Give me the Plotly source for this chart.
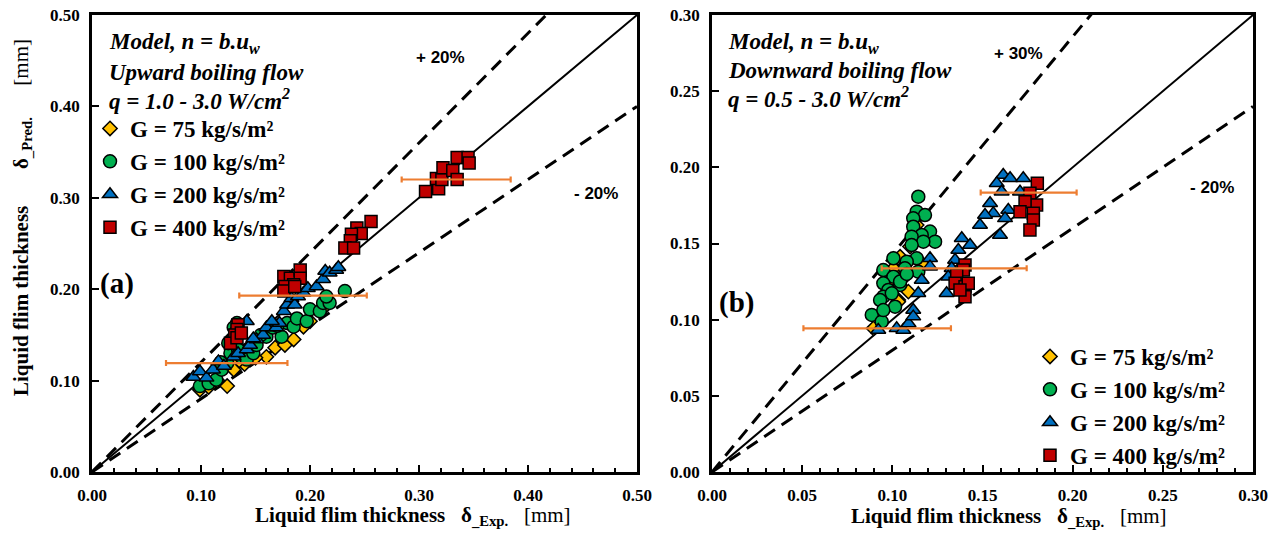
import plotly.graph_objects as go

W, H = 1280, 533
OFF = 0  # body margin removed by post_script below

# ---------------- DATA : panel (a) upward flow ----------------
A_G75_X = [0.099, 0.107, 0.124, 0.115, 0.130, 0.140, 0.160, 0.168, 0.177, 0.185, 0.194, 0.200, 0.212, 0.150, 0.135]
A_G75_Y = [0.090, 0.093, 0.094, 0.100, 0.112, 0.118, 0.126, 0.136, 0.139, 0.145, 0.159, 0.165, 0.179, 0.125, 0.122]

A_G100_X = [0.099, 0.107, 0.114, 0.119, 0.124, 0.127, 0.125, 0.134, 0.137, 0.142, 0.148, 0.151, 0.160, 0.166, 0.174,
            0.179, 0.185, 0.188, 0.197, 0.200, 0.209, 0.212, 0.218, 0.215, 0.232, 0.133, 0.130, 0.155, 0.170, 0.118]
A_G100_Y = [0.094, 0.097, 0.101, 0.112, 0.119, 0.130, 0.141, 0.134, 0.126, 0.123, 0.130, 0.139, 0.148, 0.158, 0.148,
            0.163, 0.159, 0.168, 0.165, 0.178, 0.176, 0.185, 0.185, 0.192, 0.198, 0.163, 0.158, 0.150, 0.160, 0.120]

A_G200_X = [0.093, 0.099, 0.105, 0.111, 0.116, 0.121, 0.130, 0.134, 0.142, 0.145, 0.151, 0.157, 0.160, 0.169, 0.172, 0.176,
            0.179, 0.183, 0.186, 0.189, 0.194, 0.198, 0.206, 0.212, 0.214, 0.218, 0.224, 0.226, 0.142, 0.133, 0.148, 0.165]
A_G200_Y = [0.104, 0.110, 0.103, 0.112, 0.121, 0.116, 0.126, 0.130, 0.134, 0.139, 0.145, 0.150, 0.158, 0.158, 0.163, 0.176,
            0.183, 0.190, 0.183, 0.192, 0.196, 0.201, 0.203, 0.211, 0.220, 0.218, 0.221, 0.224, 0.165, 0.159, 0.146, 0.165]

A_G400_X = [0.306, 0.318, 0.316, 0.321, 0.322, 0.331, 0.335, 0.335, 0.345, 0.346,
            0.256, 0.243, 0.247, 0.238, 0.237, 0.232, 0.240,
            0.176, 0.182, 0.191, 0.191, 0.185, 0.177, 0.176, 0.186,
            0.134, 0.133, 0.131, 0.127, 0.133, 0.137]
A_G400_Y = [0.307, 0.310, 0.321, 0.320, 0.333, 0.330, 0.320, 0.344, 0.344, 0.338,
            0.274, 0.267, 0.261, 0.260, 0.253, 0.245, 0.245,
            0.214, 0.212, 0.221, 0.212, 0.205, 0.203, 0.198, 0.203,
            0.161, 0.156, 0.150, 0.141, 0.147, 0.152]

A_ERR_X = [0.1236, 0.1936, 0.3341]
A_ERR_Y = [0.1192, 0.1930, 0.3200]
A_ERR_D = [0.0557, 0.0585, 0.0500]

# ---------------- DATA : panel (b) downward flow ----------------
B_G75_X = [0.1135, 0.1043, 0.1024, 0.1089, 0.1033, 0.0895, 0.1006, 0.1163, 0.1061, 0.1033, 0.1098, 0.0980]
B_G75_Y = [0.1621, 0.1413, 0.1326, 0.1184, 0.1129, 0.0943, 0.1337, 0.1370, 0.1271, 0.1118, 0.1480, 0.1250]

B_G100_X = [0.1144, 0.1135, 0.1181, 0.1116, 0.1116, 0.1209, 0.1163, 0.1107, 0.1237, 0.1172, 0.1107, 0.1006, 0.1135, 0.1080, 0.0950,
            0.1070, 0.1144, 0.1006, 0.0950, 0.1043, 0.0978, 0.0950, 0.1015, 0.0997, 0.0932, 0.0886, 0.0941, 0.0950, 0.1043, 0.1080]
B_G100_Y = [0.1807, 0.1709, 0.1687, 0.1665, 0.1610, 0.1578, 0.1556, 0.1545, 0.1512, 0.1512, 0.1490, 0.1403, 0.1403, 0.1381, 0.1326,
            0.1337, 0.1315, 0.1282, 0.1239, 0.1228, 0.1195, 0.1151, 0.1085, 0.1173, 0.1129, 0.1031, 0.0987, 0.1063, 0.1250, 0.1300]

B_G200_X = [0.1615, 0.1653, 0.1579, 0.1726, 0.1606, 0.1708, 0.1542, 0.1560, 0.1514, 0.1486, 0.1643, 0.1625, 0.1597, 0.1385, 0.1431,
            0.1366, 0.1348, 0.1329, 0.1310, 0.1301, 0.1209, 0.1209, 0.1163, 0.1144, 0.1116, 0.0922, 0.1024, 0.1061, 0.1090, 0.1116]
B_G200_Y = [0.1950, 0.1928, 0.1895, 0.1928, 0.1840, 0.1840, 0.1764, 0.1698, 0.1687, 0.1621, 0.1720, 0.1665, 0.1556, 0.1534, 0.1490,
            0.1457, 0.1392, 0.1337, 0.1282, 0.1173, 0.1403, 0.1348, 0.1260, 0.1173, 0.1063, 0.0932, 0.0943, 0.0932, 0.0975, 0.1020]

B_G400_X = [0.1804, 0.1763, 0.1800, 0.1736, 0.1708, 0.1782, 0.1782, 0.1763, 0.1403, 0.1394, 0.1357, 0.1348, 0.1403, 0.1421, 0.1403, 0.1375]
B_G400_Y = [0.1895, 0.1830, 0.1753, 0.1774, 0.1709, 0.1698, 0.1654, 0.1589, 0.1359, 0.1326, 0.1293, 0.1239, 0.1216, 0.1239, 0.1151, 0.1195]

B_ERR_X = [0.0916, 0.1343, 0.1756]
B_ERR_Y = [0.0943, 0.1337, 0.1834]
B_ERR_D = [0.0409, 0.0402, 0.0266]

SERIES_NAMES = ["G = 75 kg/s/m²", "G = 100 kg/s/m²", "G = 200 kg/s/m²", "G = 400 kg/s/m²"]
A_MAX, B_MAX = 0.50, 0.30
A_BANDS = [1.2, 0.8]          # +20% / -20%
B_BANDS = [1 / 0.7, 0.8]      # +30% / -20%

# ---------------- STYLE ----------------
SERIF = "Liberation Serif, Times New Roman, serif"
SANS = "Liberation Sans, Arial, sans-serif"
STYLES = [
    dict(symbol="diamond", color="#FFC000", size=11),
    dict(symbol="circle", color="#00B050", size=13),
    dict(symbol="triangle-up", color="#0070C0", size=13),
    dict(symbol="square", color="#C00000", size=12),
]
ORANGE = "#ED7D31"

fig = go.Figure()


def add_panel(xa, ya, maxv, bands, series, err, legend):
    fig.add_trace(go.Scatter(x=[0, maxv], y=[0, maxv], mode="lines", xaxis=xa, yaxis=ya,
                             line=dict(color="black", width=2), showlegend=False, hoverinfo="skip"))
    for r in bands:
        fig.add_trace(go.Scatter(x=[0, maxv], y=[0, maxv * r], mode="lines", xaxis=xa, yaxis=ya,
                                 line=dict(color="black", width=3, dash="13px,8px"),
                                 showlegend=False, hoverinfo="skip"))
    for (sx, sy), name, st in zip(series, SERIES_NAMES, STYLES):
        fig.add_trace(go.Scatter(x=sx, y=sy, mode="markers", name=name, xaxis=xa, yaxis=ya,
                                 legend=legend,
                                 marker=dict(symbol=st["symbol"], color=st["color"], size=st["size"],
                                             line=dict(color="black", width=1.5))))
    ex, ey, ed = err
    fig.add_trace(go.Scatter(x=ex, y=ey, mode="markers", xaxis=xa, yaxis=ya, showlegend=False,
                             marker=dict(size=1, color=ORANGE),
                             error_x=dict(type="data", array=ed, color=ORANGE, thickness=2.2, width=3)))


add_panel("x", "y", A_MAX, A_BANDS,
          [(A_G75_X, A_G75_Y), (A_G100_X, A_G100_Y), (A_G200_X, A_G200_Y), (A_G400_X, A_G400_Y)],
          (A_ERR_X, A_ERR_Y, A_ERR_D), "legend")
add_panel("x2", "y2", B_MAX, B_BANDS,
          [(B_G75_X, B_G75_Y), (B_G100_X, B_G100_Y), (B_G200_X, B_G200_Y), (B_G400_X, B_G400_Y)],
          (B_ERR_X, B_ERR_Y, B_ERR_D), "legend2")


def px(x):
    return (x - OFF) / W


def py(y):
    return 1 - (y - OFF) / H


tickfont = dict(family=SERIF, size=17, color="black", weight="bold")
common = dict(showgrid=False, zeroline=False, showline=True, linecolor="black", linewidth=2.5,
              mirror=True, ticks="inside", ticklen=7, tickwidth=2, tickcolor="black", automargin=False,
              tickfont=tickfont, tickformat=".2f", ticklabelstandoff=6, ticklabeloverflow="allow")
ydom = [py(472), py(15)]
fig.update_layout(
    width=W, height=H, margin=dict(l=0, r=0, t=0, b=0, pad=0, autoexpand=False),
    paper_bgcolor="white", plot_bgcolor="white",
    xaxis=dict(domain=[px(92), px(637)], range=[0, A_MAX], dtick=0.1, anchor="y",
               minor=dict(dtick=0.02, ticks="inside", ticklen=4, tickwidth=1.5, tickcolor="black"), **common),
    yaxis=dict(domain=ydom, range=[0, A_MAX], dtick=0.1, anchor="x", **common),
    xaxis2=dict(domain=[px(712), px(1253)], range=[0, B_MAX], dtick=0.05, anchor="y2",
                minor=dict(dtick=0.01, ticks="inside", ticklen=4, tickwidth=1.5, tickcolor="black"), **common),
    yaxis2=dict(domain=ydom, range=[0, B_MAX], dtick=0.05, anchor="x2", **common),
    legend=dict(x=px(90), y=py(107), xanchor="left", yanchor="top", bgcolor="rgba(0,0,0,0)",
                font=dict(family=SERIF, size=23, color="black", weight="bold"), tracegroupgap=0),
    legend2=dict(x=px(1030), y=py(335), xanchor="left", yanchor="top", bgcolor="rgba(0,0,0,0)",
                 font=dict(family=SERIF, size=23, color="black", weight="bold"), tracegroupgap=0),
    showlegend=True,
)

ann = []


def text(x, y, t, size, family=SERIF, xanchor="left", angle=0):
    ann.append(dict(x=px(x), y=py(y), xref="paper", yref="paper", text=t, showarrow=False,
                    xanchor=xanchor, yanchor="middle", textangle=angle,
                    font=dict(family=family, size=size, color="black")))


bi = lambda s: "<b><i>" + s + "</i></b>"
text(107, 43, bi("Model, n = b.u<sub>w</sub>"), 23)
text(107, 72, bi("Upward boiling flow"), 23)
text(107, 100, bi("q = 1.0 - 3.0 W/cm<sup>2</sup>"), 23)
text(726, 43, bi("Model, n = b.u<sub>w</sub>"), 23)
text(726, 70, bi("Downward boiling flow"), 23)
text(726, 98, bi("q = 0.5 - 3.0 W/cm<sup>2</sup>"), 23)
text(98, 283, "<b>(a)</b>", 29)
text(717, 302, "<b>(b)</b>", 29)
text(440, 58, "<b>+ 20%</b>", 17, SANS, "center")
text(596, 193, "<b>- 20%</b>", 17, SANS, "center")
text(1018, 53, "<b>+ 30%</b>", 17, SANS, "center")
text(1212, 188, "<b>- 20%</b>", 17, SANS, "center")
xt = "<b>Liquid flim thickness&nbsp;&nbsp;&nbsp;δ<sub>_Exp.</sub></b>&nbsp;&nbsp;&nbsp;[mm]"
text(413, 516, xt, 21, SERIF, "center")
text(1009, 517, xt, 21, SERIF, "center")
yt = ("<b>Liquid flim thickness&nbsp;&nbsp;&nbsp;&nbsp;&nbsp;&nbsp;&nbsp;δ<sub>_Pred.</sub></b>"
      "&nbsp;&nbsp;&nbsp;&nbsp;&nbsp;&nbsp;[mm]")
text(22, 218, yt, 21, SERIF, "center", -90)
fig.update_layout(annotations=ann)

fig.write_html("out.html", config={"displayModeBar": False},
               post_script="document.body.style.margin='0';")
